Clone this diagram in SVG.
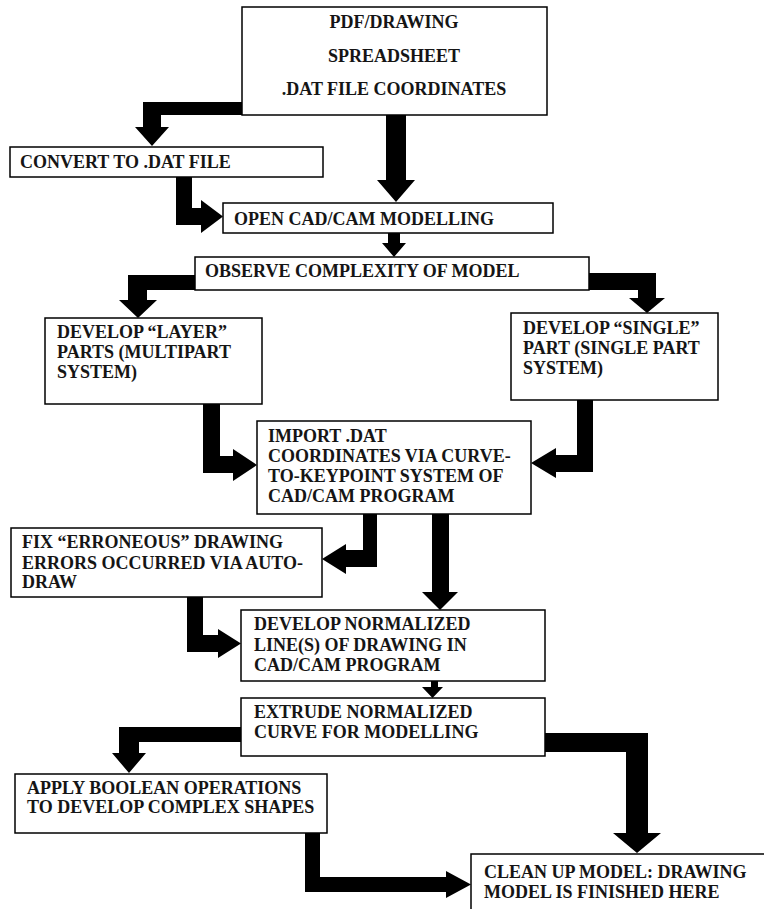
<svg xmlns="http://www.w3.org/2000/svg" width="764" height="909" viewBox="0 0 764 909">
<style>
.box{fill:#fff;stroke:#000;stroke-width:1.5}
.lbl{font-family:"Liberation Serif","Times New Roman",serif;font-weight:bold;font-size:18px;fill:#151515}
.mid{text-anchor:middle}
.arr{fill:#000;stroke:none}
</style>
<rect width="764" height="909" fill="#fff"/>
<g id="connectors">
<polygon class="arr" points="242,102 143,102 143,127 135,127 152,146 169,127 161,127 161,115 242,115"/>
<polygon class="arr" points="386,115 406,115 406,180 415,180 396,202 377,180 386,180"/>
<polygon class="arr" points="176,177 192,177 192,208 201,208 201,200 223,216.5 201,233 201,225 176,225"/>
<polygon class="arr" points="388,233 400,233 400,243 406,243 394,257 382,243 388,243"/>
<polygon class="arr" points="195,275 128,275 128,300 119,300 138,318 157,300 147,300 147,290 195,290"/>
<polygon class="arr" points="589,273 656,273 656,298 665,298 647,313 629,298 638,298 638,290 589,290"/>
<polygon class="arr" points="203,404 220,404 220,456 233,456 233,449 257,465 233,481 233,473 203,473"/>
<polygon class="arr" points="593,400 577,400 577,455 556,455 556,448 531,463 556,478 556,472 593,472"/>
<polygon class="arr" points="377,514 363,514 363,550 346,550 346,544 322,559 346,574 346,567 377,567"/>
<polygon class="arr" points="432,514 449,514 449,592 458,592 440,610 422,592 432,592"/>
<polygon class="arr" points="187,597 203,597 203,635 218,635 218,629 241,643.5 218,658 218,652 187,652"/>
<polygon class="arr" points="431,681 438,681 438,687 443,687 432.5,698 422,687 431,687"/>
<polygon class="arr" points="241,727 119,727 119,753 112,753 129,773 146,753 139,753 139,742 241,742"/>
<polygon class="arr" points="545,733 648,733 648,833 661,833 637,853 613,833 626,833 626,752 545,752"/>
<polygon class="arr" points="305,833 320,833 320,877 446,877 446,871 471,884.5 446,898 446,892 305,892"/>
</g>
<g id="n-source">
<rect class="box" x="242" y="7" width="305" height="108"/>
<text class="lbl mid" x="394" y="28">PDF/DRAWING</text>
<text class="lbl mid" x="394" y="62">SPREADSHEET</text>
<text class="lbl mid" x="394" y="95">.DAT FILE COORDINATES</text>
</g>
<g id="n-convert">
<rect class="box" x="10" y="147" width="313" height="30"/>
<text class="lbl" x="20" y="168">CONVERT TO .DAT FILE</text>
</g>
<g id="n-opencad">
<rect class="box" x="223" y="203" width="330" height="30"/>
<text class="lbl" x="234" y="225">OPEN CAD/CAM MODELLING</text>
</g>
<g id="n-observe">
<rect class="box" x="195" y="257" width="394" height="33"/>
<text class="lbl" x="205" y="277">OBSERVE COMPLEXITY OF MODEL</text>
</g>
<g id="n-layer">
<rect class="box" x="45" y="318" width="217" height="86"/>
<text class="lbl" x="57" y="338">DEVELOP “LAYER”</text>
<text class="lbl" x="57" y="358">PARTS (MULTIPART</text>
<text class="lbl" x="57" y="378">SYSTEM)</text>
</g>
<g id="n-single">
<rect class="box" x="511" y="313" width="207" height="87"/>
<text class="lbl" x="523" y="334">DEVELOP “SINGLE”</text>
<text class="lbl" x="523" y="354">PART (SINGLE PART</text>
<text class="lbl" x="523" y="374">SYSTEM)</text>
</g>
<g id="n-import">
<rect class="box" x="257" y="421" width="274" height="93"/>
<text class="lbl" x="268" y="442">IMPORT .DAT</text>
<text class="lbl" x="268" y="462">COORDINATES VIA CURVE-</text>
<text class="lbl" x="268" y="482">TO-KEYPOINT SYSTEM OF</text>
<text class="lbl" x="268" y="502">CAD/CAM PROGRAM</text>
</g>
<g id="n-fix">
<rect class="box" x="11" y="528" width="311" height="69"/>
<text class="lbl" x="22" y="548">FIX “ERRONEOUS” DRAWING</text>
<text class="lbl" x="22" y="569">ERRORS OCCURRED VIA AUTO-</text>
<text class="lbl" x="22" y="588">DRAW</text>
</g>
<g id="n-normalize">
<rect class="box" x="241" y="610" width="304" height="71"/>
<text class="lbl" x="254" y="630">DEVELOP NORMALIZED</text>
<text class="lbl" x="254" y="651">LINE(S) OF DRAWING IN</text>
<text class="lbl" x="254" y="671">CAD/CAM PROGRAM</text>
</g>
<g id="n-extrude">
<rect class="box" x="241" y="698" width="304" height="58"/>
<text class="lbl" x="254" y="718">EXTRUDE NORMALIZED</text>
<text class="lbl" x="254" y="738">CURVE FOR MODELLING</text>
</g>
<g id="n-boolean">
<rect class="box" x="15" y="774" width="312" height="59"/>
<text class="lbl" x="27" y="794">APPLY BOOLEAN OPERATIONS</text>
<text class="lbl" x="27" y="813">TO DEVELOP COMPLEX SHAPES</text>
</g>
<g id="n-cleanup">
<rect class="box" x="471" y="854" width="310" height="80"/>
<text class="lbl" x="484" y="878">CLEAN UP MODEL: DRAWING</text>
<text class="lbl" x="484" y="898">MODEL IS FINISHED HERE</text>
</g>
</svg>
